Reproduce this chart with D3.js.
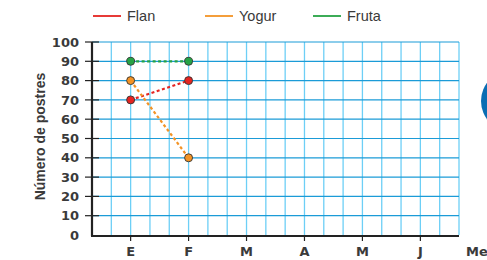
<!DOCTYPE html>
<html>
<head>
<meta charset="utf-8">
<script src="https://cdn.jsdelivr.net/npm/d3@7"></script>
<style>
  body { margin: 0; background: #fff; }
  svg { display: block; font-family: "Liberation Sans", Arial, sans-serif; }
</style>
</head>
<body>
<script>
// datos
var meses = ["E", "F", "M", "A", "M", "J"];
var series = ["Flan", "Yogur", "Fruta"];
var flan = [70, 80];
var yogur = [80, 40];
var fruta = [90, 90];
var ticksY = [0, 10, 20, 30, 40, 50, 60, 70, 80, 90, 100];

var colores = { Flan: "#e52421", Yogur: "#f39325", Fruta: "#26a345" };
var valores = { Flan: flan, Yogur: yogur, Fruta: fruta };

var width = 487, height = 260;
var svg = d3.select("body").append("svg")
    .attr("width", width)
    .attr("height", height);

// escalas: la cuadrícula tiene 19 columnas, los meses caen cada 3
var x = d3.scaleLinear().domain([0, 19]).range([92, 459]);
var y = d3.scaleLinear().domain([0, 100]).range([235, 42]);
var posMes = i => x(2 + 3 * i);

// círculo azul a la derecha (decoración)
svg.append("circle")
    .attr("cx", 512).attr("cy", 101).attr("r", 31)
    .attr("fill", "#0a6db3");

// cuadrícula vertical
svg.append("g").selectAll("line")
    .data(d3.range(1, 20))
    .enter().append("line")
    .attr("x1", d => x(d)).attr("x2", d => x(d))
    .attr("y1", y(100)).attr("y2", y(0))
    .attr("stroke", "#6dcff6").attr("stroke-width", 1.3);

// cuadrícula horizontal
svg.append("g").selectAll("line")
    .data(d3.range(10, 101, 10))
    .enter().append("line")
    .attr("x1", x(0)).attr("x2", x(19))
    .attr("y1", d => y(d)).attr("y2", d => y(d))
    .attr("stroke", "#1b9bd7").attr("stroke-width", 1.2);

// eje Y
var ejeY = d3.axisLeft(y).tickValues(ticksY).tickSize(0).tickPadding(13);
svg.append("g")
    .attr("transform", "translate(" + x(0) + ",0)")
    .call(ejeY)
    .call(g => g.select(".domain").remove())
    .selectAll("text")
    .attr("font-family", "DejaVu Sans")
    .attr("font-size", 13)
    .attr("font-weight", "bold")
    .attr("fill", "#3a3a3a");

// marcas del eje Y que cruzan el eje
svg.append("g").selectAll("line")
    .data(ticksY.filter(d => d > 0))
    .enter().append("line")
    .attr("x1", x(0) - 7).attr("x2", x(0) + 7)
    .attr("y1", d => y(d)).attr("y2", d => y(d))
    .attr("stroke", "#222").attr("stroke-width", 1.2);

svg.append("line")
    .attr("x1", x(0)).attr("x2", x(0))
    .attr("y1", y(100)).attr("y2", y(0) + 1)
    .attr("stroke", "#222").attr("stroke-width", 2.2);

// eje X
svg.append("line")
    .attr("x1", x(0) - 1).attr("x2", x(19))
    .attr("y1", y(0) + 1).attr("y2", y(0) + 1)
    .attr("stroke", "#222").attr("stroke-width", 2.2);

svg.append("g").selectAll("line")
    .data(meses)
    .enter().append("line")
    .attr("x1", (d, i) => posMes(i)).attr("x2", (d, i) => posMes(i))
    .attr("y1", y(0)).attr("y2", y(0) + 6)
    .attr("stroke", "#222").attr("stroke-width", 1.2);

svg.append("g").selectAll("text")
    .data(meses)
    .enter().append("text")
    .attr("x", (d, i) => posMes(i))
    .attr("y", 256)
    .attr("text-anchor", "middle")
    .attr("font-family", "DejaVu Sans")
    .attr("font-size", 13)
    .attr("font-weight", "bold")
    .attr("fill", "#3a3a3a")
    .text(d => d);

svg.append("text")
    .attr("x", 466).attr("y", 256)
    .attr("font-family", "DejaVu Sans")
    .attr("font-size", 13)
    .attr("font-weight", "bold")
    .attr("fill", "#3a3a3a")
    .text("Meses");

// título eje Y
svg.append("text")
    .attr("transform", "translate(45," + (y(50) - 2) + ") rotate(-90)")
    .attr("text-anchor", "middle")
    .attr("font-size", 14)
    .attr("font-weight", "bold")
    .attr("fill", "#3a3a3a")
    .text("Número de postres");

// líneas discontinuas y puntos
series.forEach(function(s) {
    var datos = valores[s];
    var linea = d3.line()
        .x((d, i) => posMes(i))
        .y(d => y(d));
    svg.append("path")
        .datum(datos)
        .attr("d", linea)
        .attr("fill", "none")
        .attr("stroke", colores[s])
        .attr("stroke-width", 2.2)
        .attr("stroke-dasharray", "3,2.5");
});

series.forEach(function(s) {
    svg.append("g").selectAll("circle")
        .data(valores[s])
        .enter().append("circle")
        .attr("cx", (d, i) => posMes(i))
        .attr("cy", d => y(d))
        .attr("r", 4)
        .attr("fill", colores[s])
        .attr("stroke", "#333")
        .attr("stroke-width", 0.9);
});

// leyenda
var legX = [93, 205, 313];
var leyenda = svg.append("g").selectAll("g")
    .data(series)
    .enter().append("g")
    .attr("transform", (d, i) => "translate(" + legX[i] + ",16)");

leyenda.append("line")
    .attr("x1", 0).attr("x2", 28)
    .attr("stroke", d => colores[d])
    .attr("stroke-width", 1.8);

leyenda.append("text")
    .attr("x", 34).attr("y", 5)
    .attr("font-size", 14.5)
    .attr("fill", "#3a3a3a")
    .text(d => d);
</script>
</body>
</html>
